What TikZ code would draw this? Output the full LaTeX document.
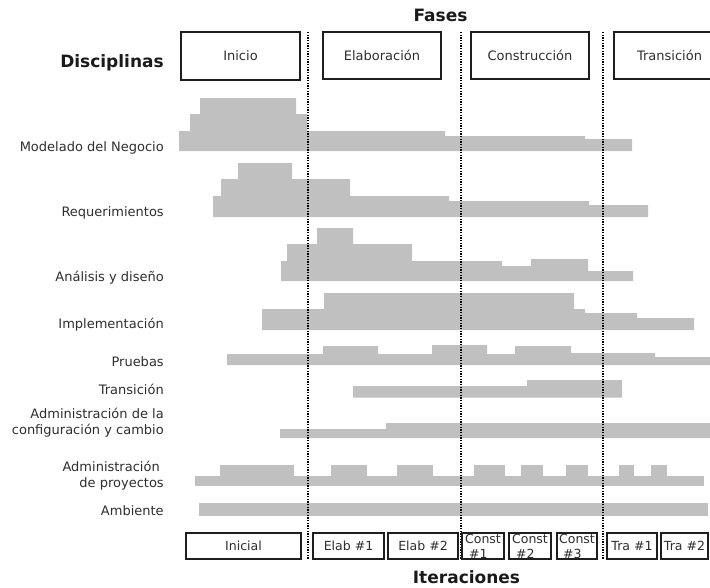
\documentclass[tikz,border=0pt]{standalone}
\usepackage{fontspec}
\setmainfont{DejaVu Sans}
\usetikzlibrary{fit}
\definecolor{barGray}{HTML}{C0C0C0}
\definecolor{boxLine}{HTML}{1E1E1E}
\definecolor{inkText}{HTML}{2E2E2E}
\definecolor{headText}{HTML}{1A1A1A}
\begin{document}
\begin{tikzpicture}[x=0.75pt,y=-0.75pt,
  bar/.style={fill=barGray,draw=none},
  framebox/.style={draw=boxLine,line width=1.5pt,inner sep=0pt},
  phasetext/.style={text=inkText,inner sep=0pt,font=\fontsize{9.75}{12}\selectfont},
  itertext/.style={text=inkText,inner sep=0pt,align=left,
    font=\fontsize{9.4}{11.25}\selectfont},
  heading/.style={text=headText,inner sep=0pt,font=\fontsize{12.75}{15}\selectfont\bfseries},
  discipline/.style={anchor=east,text=inkText,inner sep=0pt,align=right,
    font=\fontsize{9.75}{12}\selectfont},
  phaseline/.style={draw=black,line width=1.3pt,dash pattern=on 1.1pt off 0.9pt}]
\useasboundingbox (0,0) rectangle (710,587);

% headings
\node[heading] (fases) at (440.5,15) {Fases};
\node[heading,anchor=east] (disc) at (164,63) {Disciplinas};
\node[heading] (iter) at (466.5,577) {Iteraciones};

% phase boxes
\node[framebox,fit={(181,32) (300,80)}] (inicio) {};
\node[framebox,fit={(323,32) (441,79)}] (elab) {};
\node[framebox,fit={(471,32) (589,79)}] (constr) {};
\node[framebox,fit={(614,32) (725,79)}] (trans) {};
\node[phasetext] (inicioT) at (inicio.center) {Inicio};
\node[phasetext] (elabT) at (elab.center) {Elaboración};
\node[phasetext] (constrT) at (constr.center) {Construcción};
\node[phasetext] (transT) at (trans.center) {Transición};

% workload profiles of each discipline
\fill[bar] (179,151) -- (179,131) -- (190,131) -- (190,114) -- (200,114) -- (200,98)
  -- (296,98) -- (296,114) -- (307,114) -- (307,131) -- (445,131) -- (445,136)
  -- (585,136) -- (585,139) -- (632,139) -- (632,151) -- cycle;
\fill[bar] (213,217) -- (213,196) -- (221,196) -- (221,179) -- (238,179) -- (238,163)
  -- (292,163) -- (292,179) -- (350,179) -- (350,196) -- (449,196) -- (449,201)
  -- (589,201) -- (589,205) -- (648,205) -- (648,217) -- cycle;
\fill[bar] (281,281) -- (281,261) -- (287,261) -- (287,244) -- (317,244) -- (317,228)
  -- (353,228) -- (353,244) -- (412,244) -- (412,261) -- (502,261) -- (502,266)
  -- (531,266) -- (531,259) -- (588,259) -- (588,271) -- (633,271) -- (633,281) -- cycle;
\fill[bar] (262,330) -- (262,309) -- (324,309) -- (324,293) -- (574,293) -- (574,309)
  -- (585,309) -- (585,313) -- (637,313) -- (637,318) -- (694,318) -- (694,330) -- cycle;
\fill[bar] (227,365) -- (227,354) -- (323,354) -- (323,346) -- (378,346) -- (378,354)
  -- (432,354) -- (432,345) -- (487,345) -- (487,354) -- (515,354) -- (515,346)
  -- (571,346) -- (571,353) -- (655,353) -- (655,357) -- (712,357) -- (712,365) -- cycle;
\fill[bar] (353,397.5) -- (353,386) -- (527,386) -- (527,380) -- (622,380) -- (622,397.5) -- cycle;
\fill[bar] (280,438) -- (280,429) -- (386,429) -- (386,423) -- (712,423) -- (712,438) -- cycle;
\fill[bar] (195,476) rectangle (704,486);
\foreach \a/\b in {220/294,331/367,397/433,474/505,521/543,566/588,619/634,651/667}
  \fill[bar] (\a,465) rectangle (\b,476);
\fill[bar] (199,503) rectangle (708,516);

% discipline names
\node[discipline] (modelado) at (164,148) {Modelado del Negocio};
\node[discipline] (req) at (164,213) {Requerimientos};
\node[discipline] (analisis) at (164,278) {Análisis y diseño};
\node[discipline] (impl) at (164,325) {Implementación};
\node[discipline] (pruebas) at (164,362) {Pruebas};
\node[discipline] (transd) at (164,389) {Transición};
\node[discipline] (config) at (164,423) {Administración de la\\configuración y cambio};
\node[discipline] (proy) at (164,476) {Administración\rule{3pt}{0pt}\\de proyectos};
\node[discipline] (amb) at (164,511) {Ambiente};

% phase boundaries
\coordinate (b1t) at (308,32);  \coordinate (b1b) at (308,559);
\coordinate (b2t) at (461,32);  \coordinate (b2b) at (461,559);
\coordinate (b3t) at (603,32);  \coordinate (b3b) at (603,559);
\draw[phaseline] (b1t) -- (b1b);
\draw[phaseline] (b2t) -- (b2b);
\draw[phaseline] (b3t) -- (b3b);

% iteration boxes
\node[framebox,fit={(186,533) (301,559)}] (it0) {};
\node[framebox,fit={(313,533) (384,559)}] (it1) {};
\node[framebox,fit={(388,533) (458,559)}] (it2) {};
\node[framebox,fit={(462,533) (504,559)}] (it3) {};
\node[framebox,fit={(509,533) (551,559)}] (it4) {};
\node[framebox,fit={(557,533) (597,559)}] (it5) {};
\node[framebox,fit={(607,533) (657,559)}] (it6) {};
\node[framebox,fit={(661,533) (708,559)}] (it7) {};
\node[itertext] (t0) at (it0.center) {Inicial};
\node[itertext] (t1) at (it1.center) {Elab \#1};
\node[itertext] (t2) at (it2.center) {Elab \#2};
\node[itertext] (t3) at (it3.center) {Const\\\hspace*{3pt}\#1};
\node[itertext] (t4) at (it4.center) {Const\\\hspace*{3pt}\#2};
\node[itertext] (t5) at (it5.center) {Const\\\hspace*{3pt}\#3};
\node[itertext] (t6) at (it6.center) {Tra \#1};
\node[itertext] (t7) at (it7.center) {Tra \#2};
\end{tikzpicture}
\end{document}
